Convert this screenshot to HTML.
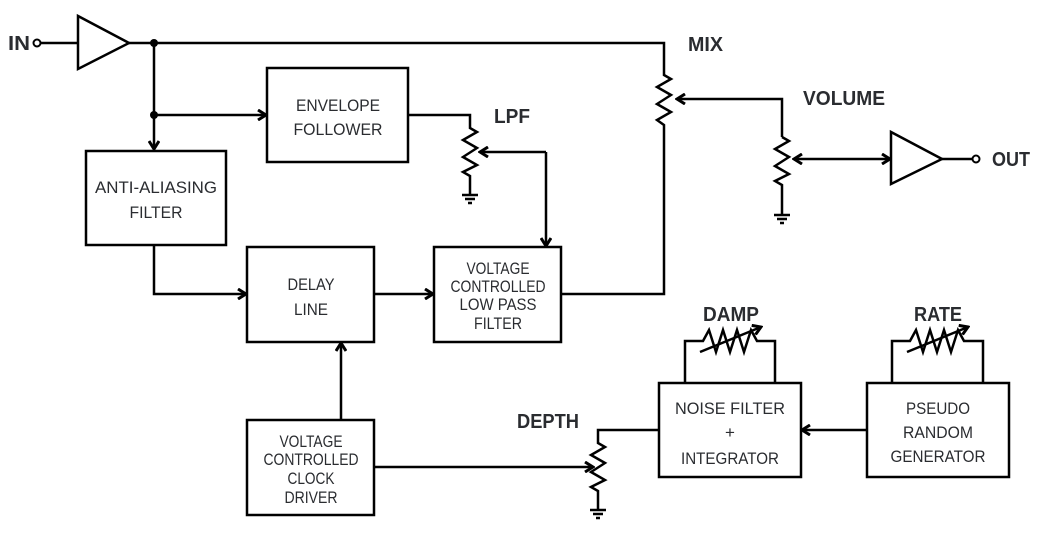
<!DOCTYPE html>
<html><head><meta charset="utf-8"><style>
html,body{margin:0;padding:0;background:#fff;}
svg{display:block;}
text{font-family:"Liberation Sans",sans-serif;fill:#2a2c30;}
.b{font-size:17px;text-anchor:middle;}
.l{font-size:20px;font-weight:bold;}
</style></head><body>
<svg width="1037" height="536" viewBox="0 0 1037 536" xmlns="http://www.w3.org/2000/svg">
<defs>
<marker id="a" markerWidth="12" markerHeight="12" refX="10" refY="6" orient="auto" markerUnits="userSpaceOnUse">
<path d="M2,1 L10,6 L2,11" fill="none" stroke="#000" stroke-width="3"/>
</marker>
<marker id="s" markerWidth="12" markerHeight="12" refX="2" refY="6" orient="auto" markerUnits="userSpaceOnUse">
<path d="M10,1 L2,6 L10,11" fill="none" stroke="#000" stroke-width="3"/>
</marker>
</defs>
<g fill="none" stroke="#000" stroke-width="2.5">
<circle cx="37" cy="43" r="3.5" stroke-width="2"/>
<line x1="41" y1="43" x2="78" y2="43"/>
<path d="M78,16 L78,69 L129,43 Z"/>
<path d="M129,43 L664,43 L664,75 L671,79 L657,87 L671,95 L657,104 L671,112 L657,120 L664,125 L664,294 L561,294"/>
<line x1="154" y1="43" x2="154" y2="149" marker-end="url(#a)"/>
<line x1="154" y1="115" x2="266" y2="115" marker-end="url(#a)"/>
<rect x="86" y="151" width="140" height="94"/>
<rect x="267" y="68" width="141" height="94"/>
<rect x="247" y="247" width="127" height="95"/>
<rect x="434" y="247" width="127" height="95"/>
<rect x="247" y="420" width="127" height="95"/>
<rect x="659" y="383" width="142" height="94"/>
<rect x="867" y="383" width="142" height="94"/>
<path d="M154,245 L154,294 L246,294" marker-end="url(#a)"/>
<line x1="374" y1="294" x2="433" y2="294" marker-end="url(#a)"/>
<line x1="341" y1="420" x2="341" y2="343" marker-end="url(#a)"/>
<path d="M408,115 L470,115 L470,128 L477,132 L463,140 L477,148 L463,157 L477,165 L463,172 L470,176 L470,195"/>
<path d="M462,195 h16 M465,199 h10 M468,203 h4"/>
<path d="M546,152 L480,152" marker-end="url(#a)"/>
<path d="M546,152 L546,246" marker-end="url(#a)"/>
<path d="M782,137 L782,99 L677,99" marker-end="url(#a)"/>
<path d="M782,137 L789,141 L775,149 L789,157 L775,166 L789,174 L775,181 L782,185 L782,215"/>
<path d="M774,215 h16 M777,219 h10 M780,223 h4"/>
<line x1="794" y1="159" x2="890" y2="159" marker-start="url(#s)" marker-end="url(#a)"/>
<path d="M891,132 L891,184 L942,159 Z"/>
<line x1="942" y1="159" x2="972" y2="159"/>
<circle cx="976" cy="159" r="3.5" stroke-width="2"/>
<line x1="374" y1="467" x2="593" y2="467" marker-end="url(#a)"/>
<path d="M659,430 L598,430 L598,443 L605,447 L591,455 L605,463 L591,472 L605,480 L591,487 L598,491 L598,510"/>
<path d="M590,510 h16 M593,514 h10 M596,518 h4"/>
<line x1="867" y1="430" x2="802" y2="430" marker-end="url(#a)"/>
<path d="M685,383 L685,341 L703,341 L709,330 L716,352 L723,330 L730,352 L737,330 L744,352 L751,330 L757,341 L775,341 L775,383"/>
<line x1="700" y1="352" x2="761" y2="327" marker-end="url(#a)"/>
<path d="M892,383 L892,341 L910,341 L916,330 L923,352 L930,330 L937,352 L944,330 L951,352 L958,330 L964,341 L983,341 L983,383"/>
<line x1="907" y1="352" x2="968" y2="327" marker-end="url(#a)"/>
</g>
<circle cx="154" cy="43" r="4" fill="#000"/>
<circle cx="154" cy="115" r="4" fill="#000"/>
<g>
<text class="l" x="8" y="50" textLength="22" lengthAdjust="spacingAndGlyphs">IN</text>
<text class="l" x="992" y="166" textLength="38" lengthAdjust="spacingAndGlyphs">OUT</text>
<text class="l" x="688" y="51" textLength="35" lengthAdjust="spacingAndGlyphs">MIX</text>
<text class="l" x="494" y="123" textLength="36" lengthAdjust="spacingAndGlyphs">LPF</text>
<text class="l" x="803" y="105" textLength="82" lengthAdjust="spacingAndGlyphs">VOLUME</text>
<text class="l" x="517" y="428" textLength="62" lengthAdjust="spacingAndGlyphs">DEPTH</text>
<text class="l" x="703" y="321" textLength="56" lengthAdjust="spacingAndGlyphs">DAMP</text>
<text class="l" x="914" y="321" textLength="48" lengthAdjust="spacingAndGlyphs">RATE</text>
<text class="b" x="156" y="193" textLength="122" lengthAdjust="spacingAndGlyphs">ANTI-ALIASING</text>
<text class="b" x="156" y="218" textLength="53" lengthAdjust="spacingAndGlyphs">FILTER</text>
<text class="b" x="338" y="111" textLength="84" lengthAdjust="spacingAndGlyphs">ENVELOPE</text>
<text class="b" x="338" y="135" textLength="89" lengthAdjust="spacingAndGlyphs">FOLLOWER</text>
<text class="b" x="311" y="290" textLength="47" lengthAdjust="spacingAndGlyphs">DELAY</text>
<text class="b" x="311" y="315" textLength="34" lengthAdjust="spacingAndGlyphs">LINE</text>
<text class="b" x="498" y="274" textLength="63" lengthAdjust="spacingAndGlyphs">VOLTAGE</text>
<text class="b" x="498" y="292" textLength="95" lengthAdjust="spacingAndGlyphs">CONTROLLED</text>
<text class="b" x="498" y="310" textLength="77" lengthAdjust="spacingAndGlyphs">LOW PASS</text>
<text class="b" x="498" y="329" textLength="48" lengthAdjust="spacingAndGlyphs">FILTER</text>
<text class="b" x="311" y="447" textLength="63" lengthAdjust="spacingAndGlyphs">VOLTAGE</text>
<text class="b" x="311" y="465" textLength="95" lengthAdjust="spacingAndGlyphs">CONTROLLED</text>
<text class="b" x="311" y="484" textLength="47" lengthAdjust="spacingAndGlyphs">CLOCK</text>
<text class="b" x="311" y="503" textLength="53" lengthAdjust="spacingAndGlyphs">DRIVER</text>
<text class="b" x="730" y="414" textLength="110" lengthAdjust="spacingAndGlyphs">NOISE FILTER</text>
<text class="b" x="730" y="438">+</text>
<text class="b" x="730" y="464" textLength="98" lengthAdjust="spacingAndGlyphs">INTEGRATOR</text>
<text class="b" x="938" y="414" textLength="64" lengthAdjust="spacingAndGlyphs">PSEUDO</text>
<text class="b" x="938" y="438" textLength="70" lengthAdjust="spacingAndGlyphs">RANDOM</text>
<text class="b" x="938" y="462" textLength="95" lengthAdjust="spacingAndGlyphs">GENERATOR</text>
</g>
</svg>
</body></html>
